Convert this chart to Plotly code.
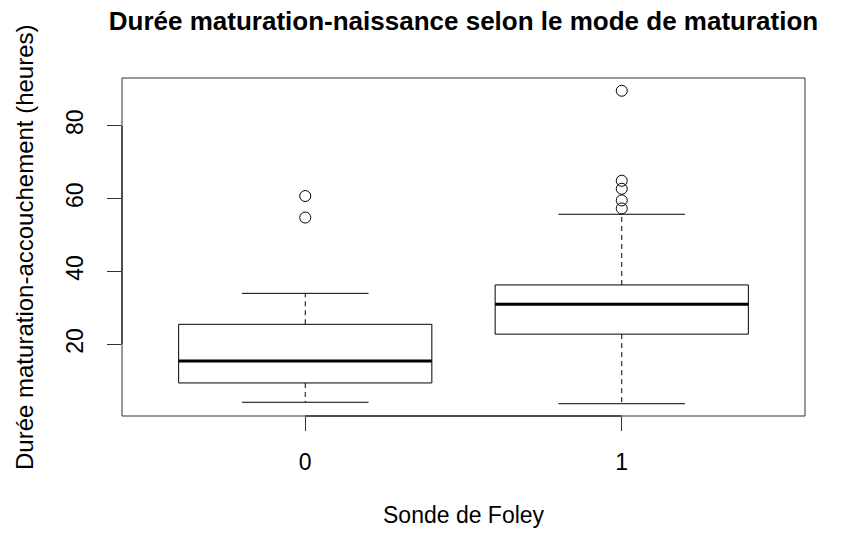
import plotly.graph_objects as go

# ---- data ----
groups = ["0", "1"]
positions = [1, 2]
q1 = [9.4, 22.8]
median = [15.4, 31.0]
q3 = [25.5, 36.3]
lower_whisker = [4.1, 3.7]
upper_whisker = [34.0, 55.7]
outliers = [[60.7, 54.8], [89.6, 64.9, 62.7, 59.5, 57.3]]
y_ticks = [20, 40, 60, 80]

title = "Durée maturation-naissance selon le mode de maturation"
x_title = "Sonde de Foley"
y_title = "Durée maturation-accouchement (heures)"

BOX_HALF = 0.4
CAP_HALF = 0.2
FONT = "Liberation Sans, Arial, Helvetica, sans-serif"

W, H = 846, 525           # page body has an 8px margin
L, R, T, B = 114, 49, 70, 117
PH = H - T - B
PW = W - L - R

fig = go.Figure()
for i, p in enumerate(positions):
    fig.add_trace(go.Scatter(
        x=[p - BOX_HALF, p + BOX_HALF, p + BOX_HALF, p - BOX_HALF, p - BOX_HALF],
        y=[q1[i], q1[i], q3[i], q3[i], q1[i]],
        mode="lines", line=dict(color="black", width=1), hoverinfo="skip"))
    fig.add_trace(go.Scatter(
        x=[p - BOX_HALF, p + BOX_HALF], y=[median[i], median[i]],
        mode="lines", line=dict(color="black", width=3), hoverinfo="skip"))
    fig.add_trace(go.Scatter(
        x=[p, p, None, p, p],
        y=[q3[i], upper_whisker[i], None, q1[i], lower_whisker[i]],
        mode="lines", line=dict(color="black", width=1, dash="5px,4px"),
        hoverinfo="skip"))
    fig.add_trace(go.Scatter(
        x=[p - CAP_HALF, p + CAP_HALF, None, p - CAP_HALF, p + CAP_HALF],
        y=[upper_whisker[i], upper_whisker[i], None, lower_whisker[i], lower_whisker[i]],
        mode="lines", line=dict(color="black", width=1), hoverinfo="skip"))
    fig.add_trace(go.Scatter(
        x=[p] * len(outliers[i]), y=outliers[i], mode="markers",
        marker=dict(symbol="circle-open", size=11, color="black",
                    line=dict(width=1, color="black"))))

fig.add_shape(type="rect", xref="paper", yref="paper", x0=0, y0=0, x1=1, y1=1,
              line=dict(color="#333333", width=1))
fig.add_shape(type="line", xref="x", yref="paper", x0=positions[0], x1=positions[-1],
              y0=0, y1=0, line=dict(color="black", width=1))
fig.add_shape(type="line", xref="paper", yref="y", x0=0, x1=0,
              y0=y_ticks[0], y1=y_ticks[-1], line=dict(color="black", width=1))

fig.update_layout(
    width=W, height=H,
    margin=dict(l=L, r=R, t=T, b=B),
    paper_bgcolor="white", plot_bgcolor="white",
    showlegend=False,
    font=dict(family=FONT, size=23, color="black"),
    title=dict(text=title, x=L / W + PW / W / 2, xref="container",
               y=1 - 4 / H, yanchor="top", xanchor="center",
               font=dict(size=26, family=FONT, color="black", weight="bold")),
    xaxis=dict(range=[0.421, 2.579], tickvals=positions, ticktext=groups,
               showgrid=False, zeroline=False, showline=False,
               ticks="outside", ticklen=14, tickcolor="#333333", tickwidth=1,
               ticklabelstandoff=11, fixedrange=True),
    yaxis=dict(range=[0.33, 93.1], tickvals=y_ticks,
               showgrid=False, zeroline=False, showline=False,
               ticks="outside", ticklen=14, tickcolor="#333333", tickwidth=1,
               tickangle=-90, ticklabelstandoff=15, fixedrange=True),
    annotations=[
        dict(text=x_title, xref="paper", yref="paper", x=0.5, y=-(507 - (H - B)) / PH,
             showarrow=False, xanchor="center", yanchor="middle",
             font=dict(size=23, family=FONT)),
        dict(text=y_title, xref="paper", yref="paper", x=-(L - 16) / PW,
             y=0.5, textangle=-90, showarrow=False, xanchor="center",
             yanchor="middle", font=dict(size=24, family=FONT)),
    ],
)

fig.write_html("out.html")
